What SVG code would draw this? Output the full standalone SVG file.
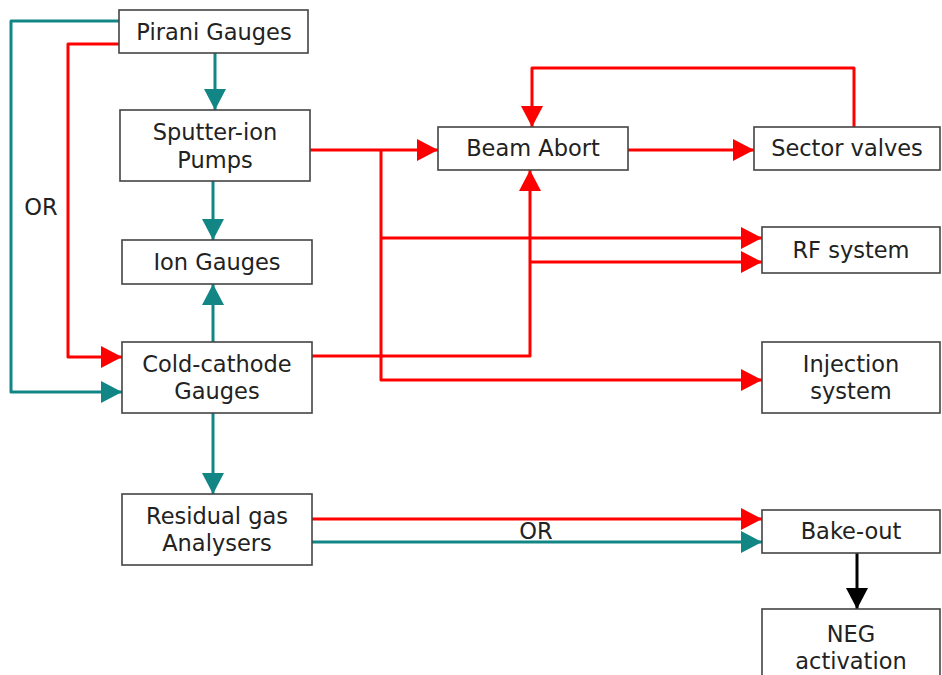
<svg xmlns="http://www.w3.org/2000/svg" width="942" height="675" viewBox="0 0 942 675">
<style>
.box{fill:#fff;stroke:#444;stroke-width:1.6}
.t{font-family:"DejaVu Sans",Verdana,sans-serif;font-size:22.5px;fill:#222;text-anchor:middle}
.r{fill:none;stroke:#f00;stroke-width:3;stroke-linejoin:round}
.g{fill:none;stroke:#128585;stroke-width:3;stroke-linejoin:round}
.k{fill:none;stroke:#000;stroke-width:3}
</style>
<defs>
<marker id="ar" markerUnits="userSpaceOnUse" markerWidth="22" markerHeight="22" refX="21" refY="11" orient="auto"><path d="M0,0 L21,11 L0,22 Z" fill="#f00"/></marker>
<marker id="ag" markerUnits="userSpaceOnUse" markerWidth="22" markerHeight="22" refX="21" refY="11" orient="auto"><path d="M0,0 L21,11 L0,22 Z" fill="#128585"/></marker>
<marker id="ak" markerUnits="userSpaceOnUse" markerWidth="22" markerHeight="22" refX="21" refY="11" orient="auto"><path d="M0,0 L21,11 L0,22 Z" fill="#000"/></marker>
</defs>
<rect width="942" height="675" fill="#fff"/>
<g id="connectors">
<path class="g" d="M215,53 V110" marker-end="url(#ag)"/>
<path class="g" d="M213,181 V240" marker-end="url(#ag)"/>
<path class="g" d="M213,342 V284" marker-end="url(#ag)"/>
<path class="g" d="M213,413 V494" marker-end="url(#ag)"/>
<path class="g" d="M119,21 H11 V392 H122" marker-end="url(#ag)"/>
<path class="g" d="M312,542 H762" marker-end="url(#ag)"/>
<path class="r" d="M119,44 H68 V357 H122" marker-end="url(#ar)"/>
<path class="r" d="M310,150 H438" marker-end="url(#ar)"/>
<path class="r" d="M381,150 V380 H762" marker-end="url(#ar)"/>
<path class="r" d="M381,238 H762" marker-end="url(#ar)"/>
<path class="r" d="M312,356 H530 V170" marker-end="url(#ar)"/>
<path class="r" d="M530,262 H762" marker-end="url(#ar)"/>
<path class="r" d="M628,150 H754" marker-end="url(#ar)"/>
<path class="r" d="M854,127 V68 H532 V127" marker-end="url(#ar)"/>
<path class="r" d="M312,519 H762" marker-end="url(#ar)"/>
<path class="k" d="M857,553 V609" marker-end="url(#ak)"/>
<text class="t" x="41" y="215">OR</text>
<text class="t" x="536" y="539">OR</text>
</g>
<g id="pirani"><rect class="box" x="119" y="10" width="189" height="43"/><text class="t" x="214" y="40">Pirani Gauges</text></g>
<g id="sputter"><rect class="box" x="120" y="110" width="190" height="71"/><text class="t" x="215" y="140">Sputter-ion</text><text class="t" x="215" y="168">Pumps</text></g>
<g id="ion"><rect class="box" x="122" y="240" width="190" height="44"/><text class="t" x="217" y="270">Ion Gauges</text></g>
<g id="cold"><rect class="box" x="122" y="342" width="190" height="71"/><text class="t" x="217" y="372">Cold-cathode</text><text class="t" x="217" y="399">Gauges</text></g>
<g id="rga"><rect class="box" x="122" y="494" width="190" height="71"/><text class="t" x="217" y="524">Residual gas</text><text class="t" x="217" y="551">Analysers</text></g>
<g id="beam"><rect class="box" x="438" y="127" width="190" height="43"/><text class="t" x="533" y="156">Beam Abort</text></g>
<g id="sector"><rect class="box" x="754" y="127" width="186" height="43"/><text class="t" x="847" y="156">Sector valves</text></g>
<g id="rf"><rect class="box" x="762" y="227" width="178" height="46"/><text class="t" x="851" y="258">RF system</text></g>
<g id="inj"><rect class="box" x="762" y="342" width="178" height="71"/><text class="t" x="851" y="372">Injection</text><text class="t" x="851" y="399">system</text></g>
<g id="bake"><rect class="box" x="762" y="510" width="178" height="43"/><text class="t" x="851" y="539">Bake-out</text></g>
<g id="neg"><rect class="box" x="762" y="609" width="178" height="80"/><text class="t" x="851" y="642">NEG</text><text class="t" x="851" y="669">activation</text></g>
</svg>
